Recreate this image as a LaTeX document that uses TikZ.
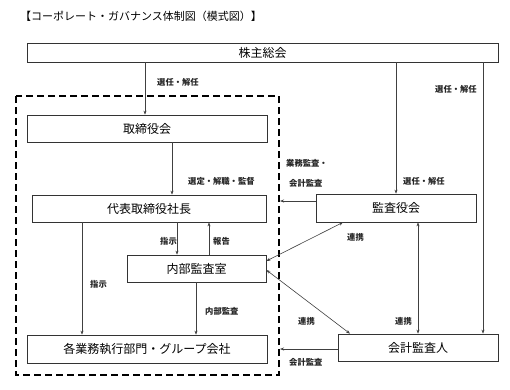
\documentclass[tikz,border=0pt]{standalone}
\usepackage{fontspec}
\setmainfont{Noto Sans CJK JP}
\usetikzlibrary{arrows.meta}
\begin{document}
\begin{tikzpicture}[x=1pt,y=-1pt,
  box/.style={draw=black!80,line width=0.7pt,minimum height=#1,inner sep=0pt,font=\fontsize{12}{12}\selectfont},
  box/.default=27pt,
  lbl/.style={font=\fontsize{8.3}{9}\selectfont\bfseries,text=black!85,inner sep=0pt,anchor=west},
  conn/.style={draw=black!75,line width=0.6pt,-{Stealth[length=4pt,width=3pt]}},
  both/.style={conn,{Stealth[length=4pt,width=3pt]}-{Stealth[length=4pt,width=3pt]}},
  dashbox/.style={draw=black,line width=1.5pt,dash pattern=on 7pt off 4pt}]
\useasboundingbox (0,0) rectangle (510,389);
\fill[white] (0,0) rectangle (510,389);
\node[anchor=west,inner sep=0pt,font=\fontsize{11}{11}\selectfont] (title) at (20,16) {【コーポレート・ガバナンス体制図（模式図）】};
% boxes
\node[box,minimum width=471pt,minimum height=19pt] (kabu) at (262.5,52.5) {株主総会};
\node[box,minimum width=240pt] (tori) at (147,128.5) {取締役会};
\node[box,minimum width=234pt] (daihyo) at (149,208.5) {代表取締役社長};
\node[box,minimum width=160pt,minimum height=28pt] (kansa) at (396,208) {監査役会};
\node[box,minimum width=139pt] (naibu) at (196.5,268.5) {内部監査室};
\node[box,minimum width=240pt,minimum height=28pt] (kaku) at (147,349) {各業務執行部門・グループ会社};
\node[box,minimum width=160pt] (kaikei) at (418,347.5) {会計監査人};
% dashed frame
\draw[dashbox] (16,96) rectangle (279,375);
\coordinate (fr1) at (280,201);
\coordinate (fr2) at (280,349);
% connectors
\draw[conn] (kabu.south -| 145,0) -- (tori.north -| 145,0);
\node[lbl] (l1) at (157,82) {選任・解任};
\draw[conn] (kabu.south -| 396,0) -- (kansa.north -| 396,0);
\node[lbl] (l2) at (403,181) {選任・解任};
\draw[conn] (kabu.south -| 483,0) -- (kaikei.north -| 483,0);
\node[lbl] (l3) at (435,89) {選任・解任};
\draw[conn] (tori.south -| 172,0) -- (daihyo.north -| 172,0);
\node[lbl] (l4) at (188,181) {選定・解職・監督};
\draw[conn] (daihyo.south -| 177,0) -- (naibu.north -| 177,0);
\node[lbl] (l5) at (160,241) {指示};
\draw[conn] (naibu.north -| 209,0) -- (daihyo.south -| 209,0);
\node[lbl] (l6) at (213,241) {報告};
\draw[conn] (daihyo.south -| 82,0) -- (kaku.north -| 82,0);
\node[lbl] (l7) at (90,284) {指示};
\draw[conn] (naibu.south -| 196,0) -- (kaku.north -| 196,0);
\node[lbl] (l8) at (205,311) {内部監査};
\draw[conn] (kansa.west |- 0,201) -- (fr1);
\node[lbl] (l9) at (286,163) {業務監査・};
\node[lbl] (l10) at (289,183) {会計監査};
\draw[conn] (kaikei.west |- 0,349) -- (fr2);
\node[lbl] (l11) at (289,362) {会計監査};
\draw[both] (naibu.east |- 0,261) -- (kansa.south -| 343,0);
\node[lbl] (l12) at (347,237) {連携};
\draw[both] (naibu.east |- 0,270) -- (kaikei.north -| 350,0);
\node[lbl] (l13) at (298,321) {連携};
\draw[both] (kansa.south -| 418,0) -- (kaikei.north -| 418,0);
\node[lbl] (l14) at (395,321) {連携};
\end{tikzpicture}
\end{document}
